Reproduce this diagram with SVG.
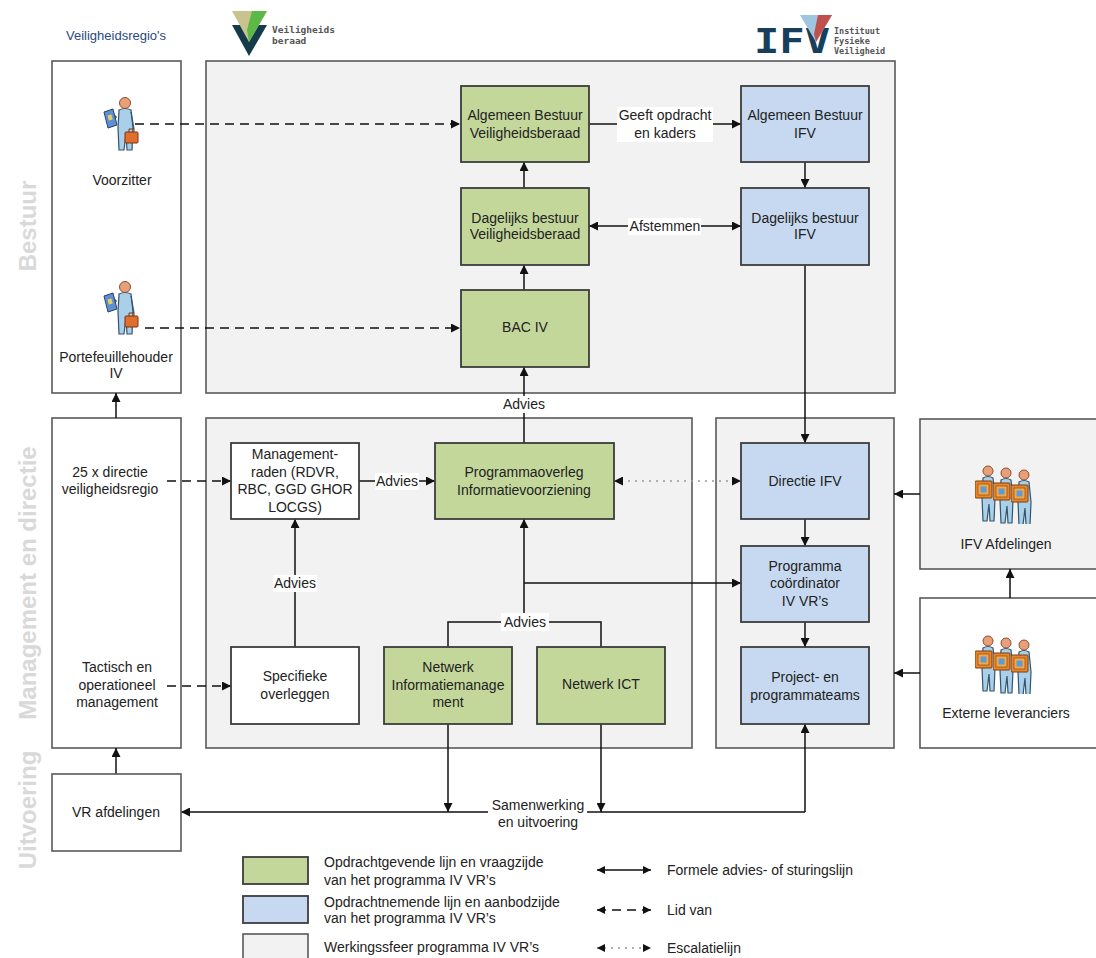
<svg xmlns="http://www.w3.org/2000/svg" xmlns:xlink="http://www.w3.org/1999/xlink" width="1096" height="958" viewBox="0 0 1096 958">
<defs>
<style>
.t{font-family:"Liberation Sans",Arial,sans-serif;font-size:14px;fill:#222;text-anchor:middle}
.tl{font-family:"Liberation Sans",Arial,sans-serif;font-size:14px;fill:#222;text-anchor:start}
.side{font-family:"Liberation Sans",Arial,sans-serif;font-size:24px;font-weight:bold;fill:#d9d9d9;text-anchor:middle}
.cont{fill:#f2f2f2;stroke:#595959;stroke-width:1.6}
.wcont{fill:#fff;stroke:#595959;stroke-width:1.6}
.g{fill:#c4d79b;stroke:#3c3c3c;stroke-width:1.8}
.b{fill:#c6d9f0;stroke:#3c3c3c;stroke-width:1.8}
.w{fill:#fff;stroke:#3c3c3c;stroke-width:1.8}
.ln{fill:none;stroke:#111;stroke-width:1.5}
.dash{fill:none;stroke:#111;stroke-width:1.5;stroke-dasharray:9 6}
.dot{fill:none;stroke:#999;stroke-width:1.5;stroke-dasharray:2 5}
.lbl{fill:#fff}
.logo{font-family:"DejaVu Sans Mono","Liberation Mono",monospace;font-weight:bold;fill:#555}
</style>
<marker id="ah" viewBox="0 0 10 10" refX="10" refY="5" markerWidth="9" markerHeight="9" markerUnits="userSpaceOnUse" orient="auto-start-reverse">
<path d="M0,0 L10,5 L0,10 z" fill="#111"/>
</marker>
<marker id="ahs" viewBox="0 0 10 10" refX="10" refY="5" markerWidth="8" markerHeight="8" markerUnits="userSpaceOnUse" orient="auto-start-reverse">
<path d="M0,0 L10,5 L0,10 z" fill="#111"/>
</marker>
<symbol id="person" viewBox="0 0 38 58">
<path d="M13,20 L7,27" stroke="#3a5a7a" stroke-width="3" fill="none"/>
<polygon points="1,16 10,13 14,29 5,32" fill="#5d8fd2" stroke="#2a4068" stroke-width="1"/>
<rect x="5" y="19" width="4" height="5" fill="#e8d060" transform="rotate(-15 7 21)"/>
<path d="M16,14 Q22,11 28,14 L30,32 L29,54 L24,54 L23,38 L21,54 L16,54 L15,32 Z" fill="#a9cfe9" stroke="#34546e" stroke-width="1.2"/>
<path d="M28,16 L31,33" stroke="#34546e" stroke-width="1.2" fill="none"/>
<circle cx="22" cy="7" r="5.5" fill="#e8a07a" stroke="#8a4f30" stroke-width="1"/>
<rect x="22" y="36" width="13" height="11" rx="1" fill="#e06e2c" stroke="#7a3510" stroke-width="1"/>
<path d="M26,36 V33 H31 V36" fill="none" stroke="#7a3510" stroke-width="1"/>
</symbol>
<symbol id="worker" viewBox="0 0 24 60">
<path d="M8,14 Q13,11 18,14 L20,34 L19,57 L15,57 L14,40 L12,57 L8,57 L7,34 Z" fill="#a9cfe9" stroke="#34546e" stroke-width="1.2"/>
<circle cx="13" cy="7" r="5" fill="#e8a07a" stroke="#8a4f30" stroke-width="1"/>
<rect x="0" y="17" width="17" height="17" rx="1" fill="#e8862e" stroke="#7a3e10" stroke-width="1"/>
<rect x="3" y="20" width="11" height="11" fill="#f4a848" stroke="#7a3e10" stroke-width="0.6"/>
<rect x="5.5" y="22.5" width="6" height="6" fill="#5d9ad6"/>
</symbol>
<symbol id="group" viewBox="0 0 62 60">
<use xlink:href="#worker" href="#worker" x="0" y="0" width="24" height="60"/>
<use xlink:href="#worker" href="#worker" x="18" y="2" width="24" height="60"/>
<use xlink:href="#worker" href="#worker" x="36" y="4" width="24" height="60"/>
</symbol>
</defs>

<rect width="1096" height="958" fill="#fff"/>

<!-- side labels -->
<g id="side-labels">
<text class="side" transform="translate(36,226) rotate(-90)">Bestuur</text>
<text class="side" transform="translate(36,583) rotate(-90)">Management en directie</text>
<text class="side" transform="translate(36,810) rotate(-90)">Uitvoering</text>
</g>

<!-- logos -->
<g id="logo-veiligheidsberaad">
<polygon points="232,25 267,25 249,56" fill="#143a4c"/>
<polygon points="232,11 267,11 249,42" fill="#c9c48e"/>
<polygon points="252,11 267,11 249,42 247,30" fill="#5cb847"/>
<text class="logo" x="272" y="33" font-size="9.5">Veiligheids</text>
<text class="logo" x="272" y="44" font-size="9.5">beraad</text>
</g>
<g id="logo-ifv">
<text x="754" y="53" font-family="'DejaVu Sans Mono','Liberation Mono',monospace" font-weight="bold" font-size="34" fill="#173f5c" textLength="76" lengthAdjust="spacingAndGlyphs">IFV</text>
<polygon points="800,15 832,15 816,42" fill="#9ec6de"/>
<polygon points="818,15 832,15 816,42 814,34" fill="#c0504d"/>
<text class="logo" x="834" y="34" font-size="8.5">Instituut</text>
<text class="logo" x="834" y="44" font-size="8.5">Fysieke</text>
<text class="logo" x="834" y="54" font-size="8.5">Veiligheid</text>
</g>

<text x="116" y="40" font-family="'Liberation Sans',Arial,sans-serif" font-size="13" fill="#2c4a80" text-anchor="middle">Veiligheidsregio's</text>

<!-- containers -->
<g id="containers">
<rect id="vr-bestuur" class="wcont" x="52" y="61" width="129" height="332"/>
<rect id="vr-management" class="wcont" x="52" y="418" width="129" height="330"/>
<rect id="bestuur" class="cont" x="206" y="61" width="689" height="332"/>
<rect id="management" class="cont" x="206" y="418" width="486" height="330"/>
<rect id="ifv-directie" class="cont" x="716" y="418" width="178" height="330"/>
<rect id="ifv-afdelingen-box" class="cont" x="920" y="419" width="190" height="150"/>
<rect id="externe-box" class="wcont" x="920" y="598" width="190" height="150"/>
</g>

<!-- connectors -->
<g id="connectors">
<path class="dash" d="M135,124 H460" marker-end="url(#ah)"/>
<path class="dash" d="M145,328 H460" marker-end="url(#ah)"/>
<path class="ln" d="M589,124 H741" marker-end="url(#ah)"/>
<path class="ln" d="M589,226 H741" marker-start="url(#ah)" marker-end="url(#ah)"/>
<path class="ln" d="M524,290 V265" marker-end="url(#ah)"/>
<path class="ln" d="M524,188 V162" marker-end="url(#ah)"/>
<path class="ln" d="M805,162 V188" marker-end="url(#ah)"/>
<path class="ln" d="M805,265 V443" marker-end="url(#ah)"/>
<path class="ln" d="M524,443 V367" marker-end="url(#ah)"/>
<path class="ln" d="M359,481 H435" marker-end="url(#ah)"/>
<path class="dash" d="M167,481 H231" marker-end="url(#ah)"/>
<path class="dash" d="M167,686 H231" marker-end="url(#ah)"/>
<path class="ln" d="M295,647 V519" marker-end="url(#ah)"/>
<path class="dot" d="M614,481 H741" marker-start="url(#ah)" marker-end="url(#ah)"/>
<path class="ln" d="M448,647 V622 H601 V647"/>
<path class="ln" d="M524,622 V519" marker-end="url(#ah)"/>
<path class="ln" d="M524,583 H741" marker-end="url(#ah)"/>
<path class="ln" d="M805,519 V546" marker-end="url(#ah)"/>
<path class="ln" d="M805,622 V647" marker-end="url(#ah)"/>
<path class="ln" d="M920,494 H894" marker-end="url(#ah)"/>
<path class="ln" d="M920,673 H894" marker-end="url(#ah)"/>
<path class="ln" d="M1010,598 V569" marker-end="url(#ah)"/>
<path class="ln" d="M116,418 V393" marker-end="url(#ah)"/>
<path class="ln" d="M116,774 V748" marker-end="url(#ah)"/>
<path class="ln" d="M448,724 V812" marker-end="url(#ah)"/>
<path class="ln" d="M601,724 V812" marker-end="url(#ah)"/>
<path class="ln" d="M805,812 V724" marker-end="url(#ah)"/>
<path class="ln" d="M805,812 H181" marker-end="url(#ah)"/>

<rect class="lbl" x="617" y="107" width="96" height="35"/>
<text class="t" x="665" y="120">Geeft opdracht</text>
<text class="t" x="665" y="138">en kaders</text>
<rect class="lbl" x="628" y="218" width="73" height="17"/>
<text class="t" x="665" y="231">Afstemmen</text>
<rect class="lbl" x="502" y="396" width="45" height="17"/>
<text class="t" x="524" y="409">Advies</text>
<rect class="lbl" x="375" y="473" width="44" height="17"/>
<text class="t" x="397" y="486">Advies</text>
<rect class="lbl" x="273" y="575" width="44" height="17"/>
<text class="t" x="295" y="588">Advies</text>
<rect class="lbl" x="501" y="613" width="48" height="18"/>
<text class="t" x="525" y="627">Advies</text>
<rect class="lbl" x="488" y="795" width="99" height="36"/>
<text class="t" x="538" y="810">Samenwerking</text>
<text class="t" x="538" y="827">en uitvoering</text>
</g>

<!-- left column nodes -->
<g id="voorzitter">
<use xlink:href="#person" href="#person" x="103" y="96" width="38" height="58"/>
<text class="t" x="122" y="185">Voorzitter</text>
</g>
<g id="portefeuillehouder">
<use xlink:href="#person" href="#person" x="103" y="280" width="38" height="58"/>
<text class="t" x="116" y="362">Portefeuillehouder</text>
<text class="t" x="116" y="378">IV</text>
</g>
<g id="directie-vr">
<text class="t" x="110" y="477">25 x directie</text>
<text class="t" x="110" y="494">veiligheidsregio</text>
</g>
<g id="tactisch">
<text class="t" x="117" y="672">Tactisch en</text>
<text class="t" x="117" y="690">operationeel</text>
<text class="t" x="117" y="707">management</text>
</g>
<g id="vr-afdelingen">
<rect class="wcont" x="52" y="774" width="129" height="77"/>
<text class="t" x="116" y="817">VR afdelingen</text>
</g>

<!-- bestuur nodes -->
<g id="ab-vb">
<rect class="g" x="461" y="86" width="128" height="76"/>
<text class="t" x="525" y="120">Algemeen Bestuur</text>
<text class="t" x="525" y="138">Veiligheidsberaad</text>
</g>
<g id="db-vb">
<rect class="g" x="461" y="188" width="128" height="77"/>
<text class="t" x="525" y="223">Dagelijks bestuur</text>
<text class="t" x="525" y="239">Veiligheidsberaad</text>
</g>
<g id="bac-iv">
<rect class="g" x="461" y="290" width="128" height="77"/>
<text class="t" x="525" y="332">BAC IV</text>
</g>
<g id="ab-ifv">
<rect class="b" x="741" y="86" width="128" height="76"/>
<text class="t" x="805" y="120">Algemeen Bestuur</text>
<text class="t" x="805" y="138">IFV</text>
</g>
<g id="db-ifv">
<rect class="b" x="741" y="188" width="128" height="77"/>
<text class="t" x="805" y="223">Dagelijks bestuur</text>
<text class="t" x="805" y="239">IFV</text>
</g>

<!-- management nodes -->
<g id="managementraden">
<rect class="w" x="231" y="443" width="128" height="76"/>
<text class="t" x="295" y="459">Management-</text>
<text class="t" x="295" y="477">raden (RDVR,</text>
<text class="t" x="295" y="494">RBC, GGD GHOR</text>
<text class="t" x="295" y="512">LOCGS)</text>
</g>
<g id="programmaoverleg">
<rect class="g" x="435" y="443" width="179" height="76"/>
<text class="t" x="524" y="477">Programmaoverleg</text>
<text class="t" x="524" y="495">Informatievoorziening</text>
</g>
<g id="specifieke">
<rect class="w" x="231" y="647" width="128" height="77"/>
<text class="t" x="295" y="681">Specifieke</text>
<text class="t" x="295" y="699">overleggen</text>
</g>
<g id="netwerk-im">
<rect class="g" x="384" y="647" width="128" height="77"/>
<text class="t" x="448" y="672">Netwerk</text>
<text class="t" x="448" y="690">Informatiemanage</text>
<text class="t" x="448" y="707">ment</text>
</g>
<g id="netwerk-ict">
<rect class="g" x="537" y="647" width="128" height="77"/>
<text class="t" x="601" y="689">Netwerk ICT</text>
</g>

<!-- IFV nodes -->
<g id="directie-ifv">
<rect class="b" x="741" y="443" width="128" height="76"/>
<text class="t" x="805" y="486">Directie IFV</text>
</g>
<g id="programmacoordinator">
<rect class="b" x="741" y="546" width="128" height="76"/>
<text class="t" x="805" y="571">Programma</text>
<text class="t" x="805" y="588">coördinator</text>
<text class="t" x="805" y="606">IV VR’s</text>
</g>
<g id="projectteams">
<rect class="b" x="741" y="647" width="128" height="77"/>
<text class="t" x="805" y="682">Project- en</text>
<text class="t" x="805" y="700">programmateams</text>
</g>
<g id="ifv-afdelingen">
<use xlink:href="#group" href="#group" x="975" y="464" width="62" height="60"/>
<text class="t" x="1006" y="549">IFV Afdelingen</text>
</g>
<g id="externe-leveranciers">
<use xlink:href="#group" href="#group" x="975" y="634" width="62" height="60"/>
<text class="t" x="1006" y="718">Externe leveranciers</text>
</g>

<!-- legend -->
<g id="legend">
<rect class="g" x="243" y="857" width="65" height="27"/>
<rect class="b" x="243" y="896" width="65" height="27"/>
<rect class="cont" x="243" y="934" width="65" height="30"/>
<text class="tl" x="324" y="867">Opdrachtgevende lijn en vraagzijde</text>
<text class="tl" x="324" y="885">van het programma IV VR’s</text>
<text class="tl" x="324" y="907">Opdrachtnemende lijn en aanbodzijde</text>
<text class="tl" x="324" y="923">van het programma IV VR’s</text>
<text class="tl" x="324" y="952">Werkingssfeer programma IV VR’s</text>
<path class="ln" d="M597,870 H651" marker-start="url(#ahs)" marker-end="url(#ahs)"/>
<path class="dash" d="M597,910 H651" stroke-dasharray="7 5" marker-start="url(#ahs)" marker-end="url(#ahs)"/>
<path class="dot" d="M597,948 H651" marker-start="url(#ahs)" marker-end="url(#ahs)"/>
<text class="tl" x="667" y="875">Formele advies- of sturingslijn</text>
<text class="tl" x="667" y="915">Lid van</text>
<text class="tl" x="667" y="953">Escalatielijn</text>
</g>
</svg>
